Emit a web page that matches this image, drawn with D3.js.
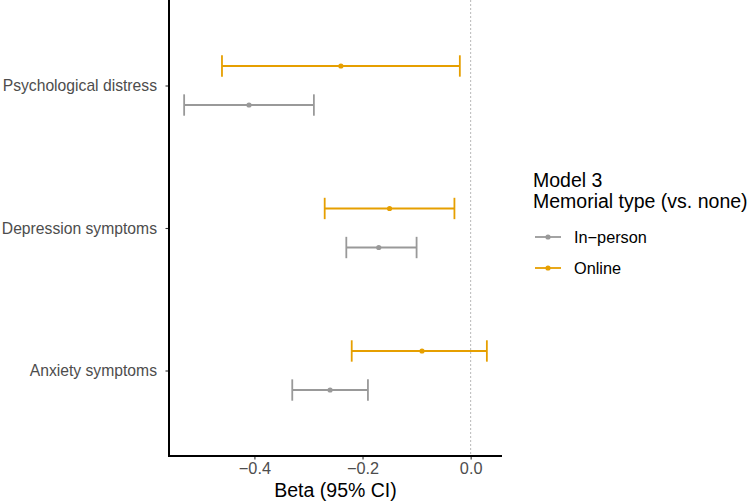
<!DOCTYPE html>
<html>
<head>
<meta charset="utf-8">
<script src="https://cdn.jsdelivr.net/npm/d3@7"></script>
<style>
  html, body { margin: 0; padding: 0; background: #fff; }
  svg { display: block; font-family: "Liberation Sans", Arial, Helvetica, sans-serif; }
</style>
</head>
<body>
<svg id="chart" width="750" height="502"></svg>
<script>
// ---- data ----
const outcomes = ["Psychological distress", "Depression symptoms", "Anxiety symptoms"];
const groups = ["In\u2212person", "Online"];
const groupColors = ["#999999", "#E69F00"];
const inPersonBeta  = [-0.41, -0.17, -0.26];
const inPersonLower = [-0.53, -0.23, -0.33];
const inPersonUpper = [-0.29, -0.10, -0.19];
const onlineBeta  = [-0.24, -0.15, -0.09];
const onlineLower = [-0.46, -0.27, -0.22];
const onlineUpper = [-0.02, -0.03,  0.03];
const xTicks = [-0.4, -0.2, 0.0];
const xTitle = "Beta (95% CI)";
const legendTitle = ["Model 3", "Memorial type (vs. none)"];

const rows = [];
outcomes.forEach((o, i) => {
  rows.push({outcome: o, group: groups[0], beta: inPersonBeta[i], lo: inPersonLower[i], hi: inPersonUpper[i]});
  rows.push({outcome: o, group: groups[1], beta: onlineBeta[i], lo: onlineLower[i], hi: onlineUpper[i]});
});

// ---- layout ----
const svg = d3.select("#chart");
const panel = {left: 169, right: 502, top: 0, bottom: 456};
const tickFont = 16.3;
const yTickFont = 15.7;

const lo = d3.min(rows, d => d.lo), hi = d3.max(rows, d => d.hi);
const pad = (hi - lo) * 0.05;
const x = d3.scaleLinear().domain([lo - pad, hi + pad]).range([panel.left, panel.right]);
const y = d3.scalePoint().domain(outcomes).range([panel.top, panel.bottom]).padding(0.6);
const color = d3.scaleOrdinal().domain(groups).range(groupColors);
const dodge = d3.scaleOrdinal().domain(groups).range([0.137, -0.137]);
const step = y.step();

// zero reference line
svg.append("line")
  .attr("x1", x(0)).attr("x2", x(0))
  .attr("y1", panel.top).attr("y2", panel.bottom)
  .attr("stroke", "#999").attr("stroke-width", 0.7)
  .attr("stroke-dasharray", "2,2");

// error bars
const capH = step * 0.075;
const g = svg.append("g");
rows.forEach(d => {
  const cy = y(d.outcome) + dodge(d.group) * step;
  const c = color(d.group);
  g.append("line").attr("x1", x(d.lo)).attr("x2", x(d.hi)).attr("y1", cy).attr("y2", cy)
    .attr("stroke", c).attr("stroke-width", 1.8);
  [d.lo, d.hi].forEach(v => {
    g.append("line").attr("x1", x(v)).attr("x2", x(v)).attr("y1", cy - capH).attr("y2", cy + capH)
      .attr("stroke", c).attr("stroke-width", 1.8);
  });
  g.append("circle").attr("cx", x(d.beta)).attr("cy", cy).attr("r", 2.6).attr("fill", c);
});

// axes
const xAxis = svg.append("g").attr("transform", `translate(0,${panel.bottom})`)
  .call(d3.axisBottom(x).tickValues(xTicks).tickSize(3.5)
    .tickFormat(d => d3.format(".1f")(d).replace("-", "\u2212")));
xAxis.select(".domain").remove();
xAxis.selectAll(".tick line").attr("stroke", "#333").attr("stroke-width", 1.1);
xAxis.selectAll(".tick text").attr("fill", "#4D4D4D").attr("font-size", tickFont)
  .attr("font-family", "Liberation Sans, Arial, sans-serif")
  .attr("y", 18).attr("dy", null);

const yAxis = svg.append("g").attr("transform", `translate(${panel.left},0)`)
  .call(d3.axisLeft(y).tickSize(3.5).tickPadding(8.5));
yAxis.select(".domain").remove();
yAxis.selectAll(".tick line").attr("stroke", "#333").attr("stroke-width", 1.1);
yAxis.selectAll(".tick text").attr("fill", "#4D4D4D").attr("font-size", yTickFont)
  .attr("font-family", "Liberation Sans, Arial, sans-serif");

// axis lines (black)
svg.append("line").attr("x1", panel.left).attr("x2", panel.left).attr("y1", panel.top).attr("y2", panel.bottom + 1)
  .attr("stroke", "#000").attr("stroke-width", 2);
svg.append("line").attr("x1", panel.left - 1).attr("x2", panel.right).attr("y1", panel.bottom).attr("y2", panel.bottom)
  .attr("stroke", "#000").attr("stroke-width", 2);

// axis title
svg.append("text").attr("x", (panel.left + panel.right) / 2).attr("y", 497)
  .attr("text-anchor", "middle").attr("font-size", 19.5).attr("fill", "#000").text(xTitle);

// legend
const lg = svg.append("g").attr("transform", "translate(533,0)");
legendTitle.forEach((t, i) => {
  lg.append("text").attr("x", 0).attr("y", 187 + i * 21).attr("font-size", 19.5).attr("fill", "#000").text(t);
});
groups.forEach((grp, i) => {
  const ky = 237 + i * 31;
  lg.append("line").attr("x1", 2).attr("x2", 28).attr("y1", ky).attr("y2", ky)
    .attr("stroke", color(grp)).attr("stroke-width", 1.8);
  lg.append("circle").attr("cx", 15).attr("cy", ky).attr("r", 2.6).attr("fill", color(grp));
  lg.append("text").attr("x", 41).attr("y", ky).attr("dy", "0.35em").attr("font-size", tickFont)
    .attr("fill", "#000").text(grp);
});
</script>
</body>
</html>
